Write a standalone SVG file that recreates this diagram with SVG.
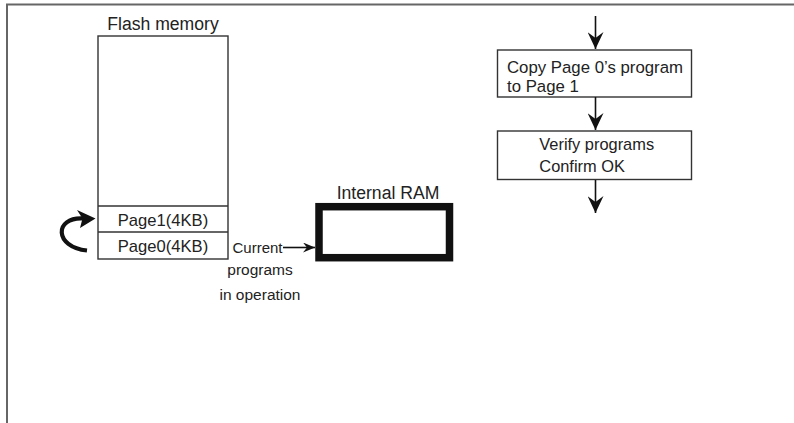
<svg xmlns="http://www.w3.org/2000/svg" width="794" height="423" viewBox="0 0 794 423">
<defs>
<style>
text{font-family:"Liberation Sans",Arial,sans-serif;fill:#222}
.t17{font-size:17px}
.t15{font-size:15px}
.box{fill:#fff;stroke:#333;stroke-width:1.4}
.ln{stroke:#111;stroke-width:1.6;fill:none}
</style>
<marker id="ah" viewBox="0 0 17 16" refX="17" refY="8" markerWidth="17" markerHeight="16" markerUnits="userSpaceOnUse" orient="auto">
<path d="M0,0 L17,8 L0,16 L6,8 Z" fill="#111"/>
</marker>
<marker id="ahs" viewBox="0 0 12 10" refX="12" refY="5" markerWidth="12" markerHeight="10" markerUnits="userSpaceOnUse" orient="auto">
<path d="M0,0 L12,5 L0,10 L4,5 Z" fill="#111"/>
</marker>
</defs>
<rect width="794" height="423" fill="#fff"/>
<path d="M7,423 V4.5 H794" fill="none" stroke="#666" stroke-width="2"/>

<g id="flash">
<text class="t17" x="163" y="30" text-anchor="middle" style="font-size:17.6px">Flash memory</text>
<rect class="box" x="98" y="36" width="130" height="223"/>
<line class="box" x1="98" y1="206" x2="228" y2="206"/>
<line class="box" x1="98" y1="232" x2="228" y2="232"/>
<text class="t17" x="163" y="226" text-anchor="middle" style="font-size:16.6px">Page1(4KB)</text>
<text class="t17" x="163" y="252" text-anchor="middle" style="font-size:16.6px">Page0(4KB)</text>
</g>

<g id="ram">
<text class="t17" x="388" y="199" text-anchor="middle" style="font-size:17.6px">Internal RAM</text>
<rect x="319" y="206.7" width="130.5" height="51" fill="#fff" stroke="#111" stroke-width="7.5"/>
</g>

<g id="current-label">
<text class="t15" x="232.5" y="253">Current</text>
<text class="t15" x="260" y="275" text-anchor="middle" style="font-size:15.5px">programs</text>
<text class="t15" x="260" y="300" text-anchor="middle" style="font-size:15.5px">in operation</text>
</g>

<g id="step1">
<rect class="box" x="497.5" y="50" width="194" height="47"/>
<text class="t17" x="507" y="72.5" style="font-size:16.8px">Copy Page 0’s program</text>
<text class="t17" x="507" y="92" style="font-size:16.8px">to Page 1</text>
</g>

<g id="step2">
<rect class="box" x="497.5" y="131" width="194" height="48.5"/>
<text class="t17" x="539.3" y="150" style="font-size:16.4px">Verify programs</text>
<text class="t17" x="539.3" y="172" style="font-size:16.4px">Confirm OK</text>
</g>

<g id="connectors">
<line class="ln" x1="595.5" y1="16" x2="595.5" y2="49" marker-end="url(#ah)"/>
<line class="ln" x1="595.5" y1="97" x2="595.5" y2="130" marker-end="url(#ah)"/>
<line class="ln" x1="595.5" y1="180" x2="595.5" y2="213" marker-end="url(#ah)"/>
<line class="ln" x1="283" y1="247.5" x2="315" y2="247.5" marker-end="url(#ahs)"/>
<path d="M87,250.5 C54,247 54,217 83,218.5" fill="none" stroke="#111" stroke-width="4.2"/>
<polygon points="95.5,218.5 77,210 82.5,218.5 80,228" fill="#111"/>
</g>
</svg>
